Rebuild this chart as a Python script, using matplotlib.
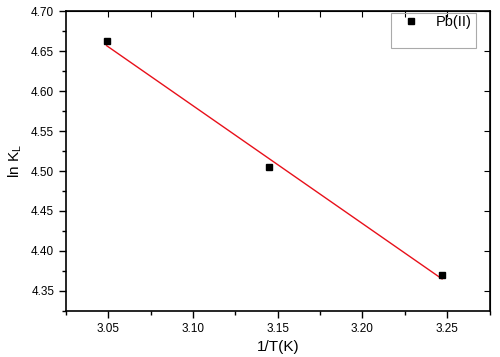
import numpy as np
import matplotlib
matplotlib.use("Agg")
import matplotlib.pyplot as plt
from matplotlib.patches import Rectangle
from matplotlib.ticker import MultipleLocator

# data
inv_T = [3.049, 3.145, 3.247]
ln_KL = [4.662, 4.505, 4.370]
series_label = "Pb(II)"

plt.rcParams["font.family"] = ["Liberation Sans", "DejaVu Sans"]

fig = plt.figure(figsize=(5.0, 3.57), dpi=100)
ax = fig.add_axes([0.132, 0.129, 0.847, 0.840])

# linear fit through the points
slope, icpt = np.polyfit(inv_T, ln_KL, 1)
xf = np.array([min(inv_T), max(inv_T)])
ax.plot(xf, slope * xf + icpt, color="#e8101a", lw=1.0, zorder=2)
ax.plot(inv_T, ln_KL, ls="none", marker="s", ms=5, color="black",
        label=series_label, zorder=3)

ax.set_xlim(3.025, 3.275)
ax.set_ylim(4.325, 4.70)
ax.xaxis.set_major_locator(MultipleLocator(0.05))
ax.xaxis.set_minor_locator(MultipleLocator(0.025))
ax.yaxis.set_major_locator(MultipleLocator(0.05))
ax.yaxis.set_minor_locator(MultipleLocator(0.025))
ax.xaxis.set_major_formatter(plt.FormatStrFormatter("%.2f"))
ax.yaxis.set_major_formatter(plt.FormatStrFormatter("%.2f"))

ax.tick_params(which="both", direction="out", labelsize=8.5, width=1, colors="black")
ax.tick_params(which="major", length=5)
ax.tick_params(which="minor", length=3)
for s in ax.spines.values():
    s.set_linewidth(1.2)

# mirrored ticks pointing inward on top/right
top = ax.secondary_xaxis("top")
top.set_xticks(np.arange(3.05, 3.26, 0.025))
top.tick_params(direction="in", length=4, labeltop=False)
right = ax.secondary_yaxis("right")
right.set_yticks(np.arange(4.35, 4.71, 0.05))
right.tick_params(direction="in", length=4, labelright=False)

ax.set_xlabel("1/T(K)", fontsize=11, labelpad=4)
ax.set_ylabel("ln K$_\\mathregular{L}$", fontsize=11, labelpad=5)

# legend box is taller than its single entry in the original
ax.add_patch(Rectangle((0.7665, 0.877), 0.2025, 0.116, transform=ax.transAxes,
                       fill=False, edgecolor="#aaaaaa", lw=0.8, zorder=4))
ax.legend(loc="center", bbox_to_anchor=(0.868, 0.962), fontsize=10.5,
          frameon=False, borderpad=0, borderaxespad=0, handletextpad=0.7)

fig.savefig("out.png", dpi=100)
